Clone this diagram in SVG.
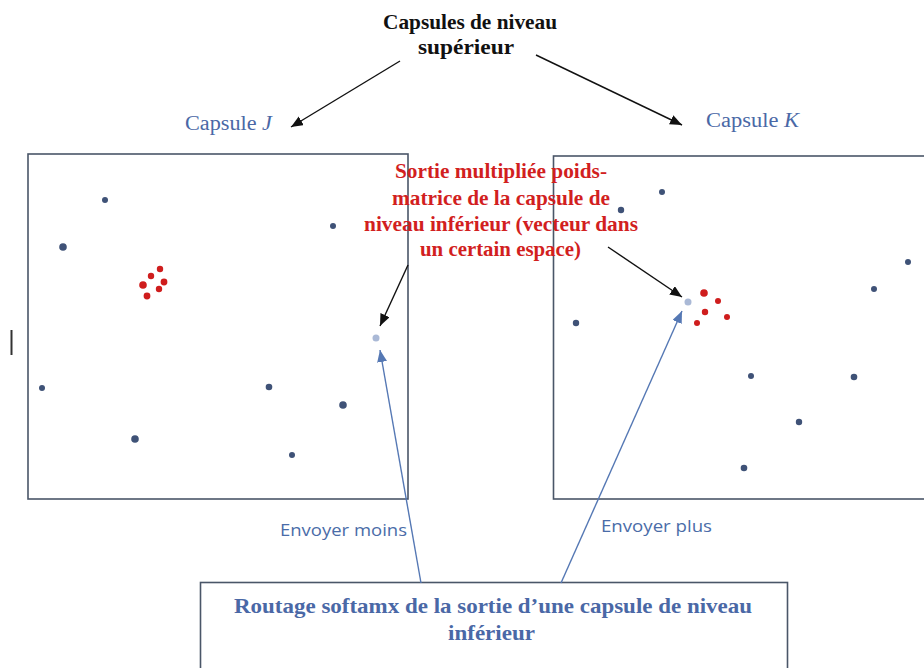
<svg xmlns="http://www.w3.org/2000/svg" width="924" height="668" viewBox="0 0 924 668">
  <style>
    .frame { fill: none; stroke: #4a5668; stroke-width: 1.6; }
    .dot { fill: #3f5277; }
    .hit { fill: #aab9d6; }
    .red { fill: #cf1d1d; }
    .arrow-k { stroke: #111111; stroke-width: 1.4; fill: none; }
    .arrow-b { stroke: #5578b4; stroke-width: 1.4; fill: none; }
    .head { font-family: "Liberation Serif", "Times New Roman", serif; font-weight: bold; font-size: 21px; fill: #111111; }
    .cap { font-family: "Liberation Serif", "Times New Roman", serif; font-size: 20px; fill: #4a68a6; }
    .note { font-family: "Liberation Serif", "Times New Roman", serif; font-weight: bold; font-size: 21px; fill: #d21f1f; }
    .route { font-family: "Liberation Serif", "Times New Roman", serif; font-weight: bold; font-size: 21px; fill: #4a68a6; }
    .send { font-family: "Open Sans", "Liberation Sans", sans-serif; font-size: 16px; fill: #4a6ca8; }
  </style>
  <defs>
    <marker id="tipK" markerUnits="userSpaceOnUse" markerWidth="14" markerHeight="12" refX="12" refY="5" orient="auto">
      <path d="M0,0 L12,5 L0,10 Z" fill="#111111"/>
    </marker>
    <marker id="tipB" markerUnits="userSpaceOnUse" markerWidth="14" markerHeight="12" refX="12" refY="5" orient="auto">
      <path d="M0,0 L12,5 L0,10 Z" fill="#5578b4"/>
    </marker>
  </defs>

  <rect width="924" height="668" fill="#ffffff"/>

  <!-- small stray mark on the left margin -->
  <line x1="11.5" y1="330" x2="11.5" y2="355" stroke="#333333" stroke-width="2"/>

  <!-- heading -->
  <g id="upper-caps">
    <text class="head" x="470" y="29" text-anchor="middle" textLength="174" lengthAdjust="spacingAndGlyphs">Capsules de niveau</text>
    <text class="head" x="466" y="54" text-anchor="middle" textLength="96" lengthAdjust="spacingAndGlyphs">supérieur</text>
  </g>

  <g id="label-j">
    <text class="cap" x="185" y="130" textLength="87" lengthAdjust="spacingAndGlyphs">Capsule <tspan font-style="italic">J</tspan></text>
  </g>
  <g id="label-k">
    <text class="cap" x="706" y="127" textLength="93" lengthAdjust="spacingAndGlyphs">Capsule <tspan font-style="italic">K</tspan></text>
  </g>

  <!-- capsule J space -->
  <g id="capsule-j">
    <rect class="frame" x="28" y="154" width="380" height="345"/>
    <circle class="dot" cx="105" cy="200" r="3"/>
    <circle class="dot" cx="63" cy="247" r="3.8"/>
    <circle class="dot" cx="333" cy="226" r="3"/>
    <circle class="dot" cx="42" cy="388" r="3"/>
    <circle class="dot" cx="269" cy="387" r="3.3"/>
    <circle class="dot" cx="343" cy="405" r="3.8"/>
    <circle class="dot" cx="135" cy="439" r="3.8"/>
    <circle class="dot" cx="292" cy="455" r="3"/>
    <circle class="red" cx="160" cy="269" r="3.2"/>
    <circle class="red" cx="151" cy="276" r="3.2"/>
    <circle class="red" cx="143" cy="285" r="3.8"/>
    <circle class="red" cx="164" cy="282" r="3.4"/>
    <circle class="red" cx="159" cy="289" r="3.2"/>
    <circle class="red" cx="147" cy="296" r="3.4"/>
    <circle class="hit" cx="376" cy="338" r="3.5"/>
  </g>

  <!-- capsule K space (runs past the right edge) -->
  <g id="capsule-k">
    <rect class="frame" x="553.5" y="156" width="400" height="343"/>
    <circle class="dot" cx="662" cy="192" r="3"/>
    <circle class="dot" cx="621" cy="210" r="3.2"/>
    <circle class="dot" cx="908" cy="262" r="3"/>
    <circle class="dot" cx="874" cy="289" r="3"/>
    <circle class="dot" cx="576" cy="323" r="3.2"/>
    <circle class="dot" cx="751" cy="376" r="3"/>
    <circle class="dot" cx="854" cy="377" r="3.3"/>
    <circle class="dot" cx="799" cy="422" r="3.2"/>
    <circle class="dot" cx="744" cy="468" r="3.3"/>
    <circle class="red" cx="704" cy="293" r="3.8"/>
    <circle class="red" cx="718" cy="301" r="3"/>
    <circle class="red" cx="705" cy="312" r="3.2"/>
    <circle class="red" cx="727" cy="317" r="3"/>
    <circle class="red" cx="697" cy="323" r="3"/>
    <circle class="hit" cx="688" cy="302" r="3.5"/>
  </g>

  <!-- annotation in red -->
  <g id="vector-note">
    <text class="note" x="501" y="178" text-anchor="middle" textLength="212" lengthAdjust="spacingAndGlyphs">Sortie multipliée poids-</text>
    <text class="note" x="501" y="205" text-anchor="middle" textLength="218" lengthAdjust="spacingAndGlyphs">matrice de la capsule de</text>
    <text class="note" x="501" y="231" text-anchor="middle" textLength="274" lengthAdjust="spacingAndGlyphs">niveau inférieur (vecteur dans</text>
    <text class="note" x="500.5" y="256" text-anchor="middle" textLength="161" lengthAdjust="spacingAndGlyphs">un  certain espace)</text>
  </g>

  <!-- routing box -->
  <g id="routing">
    <rect class="frame" x="200.5" y="582.5" width="587" height="100"/>
    <text class="route" x="493" y="613" text-anchor="middle" textLength="518" lengthAdjust="spacingAndGlyphs">Routage softamx de la sortie d’une capsule de niveau</text>
    <text class="route" x="491.5" y="640" text-anchor="middle" textLength="87" lengthAdjust="spacingAndGlyphs">inférieur</text>
  </g>

  <g id="send-labels">
    <text class="send" x="280" y="536" textLength="127" lengthAdjust="spacingAndGlyphs">Envoyer moins</text>
    <text class="send" x="601" y="532" textLength="111" lengthAdjust="spacingAndGlyphs">Envoyer plus</text>
  </g>

  <!-- connectors -->
  <g id="connectors">
    <line class="arrow-k" x1="400" y1="61" x2="291" y2="127" marker-end="url(#tipK)"/>
    <line class="arrow-k" x1="536" y1="55" x2="682" y2="125" marker-end="url(#tipK)"/>
    <line class="arrow-k" x1="408" y1="265" x2="380" y2="326" marker-end="url(#tipK)"/>
    <line class="arrow-k" x1="608" y1="247" x2="682" y2="297" marker-end="url(#tipK)"/>
    <line class="arrow-b" x1="421" y1="583" x2="380" y2="350" marker-end="url(#tipB)"/>
    <line class="arrow-b" x1="561" y1="583" x2="682" y2="311" marker-end="url(#tipB)"/>
  </g>
</svg>
